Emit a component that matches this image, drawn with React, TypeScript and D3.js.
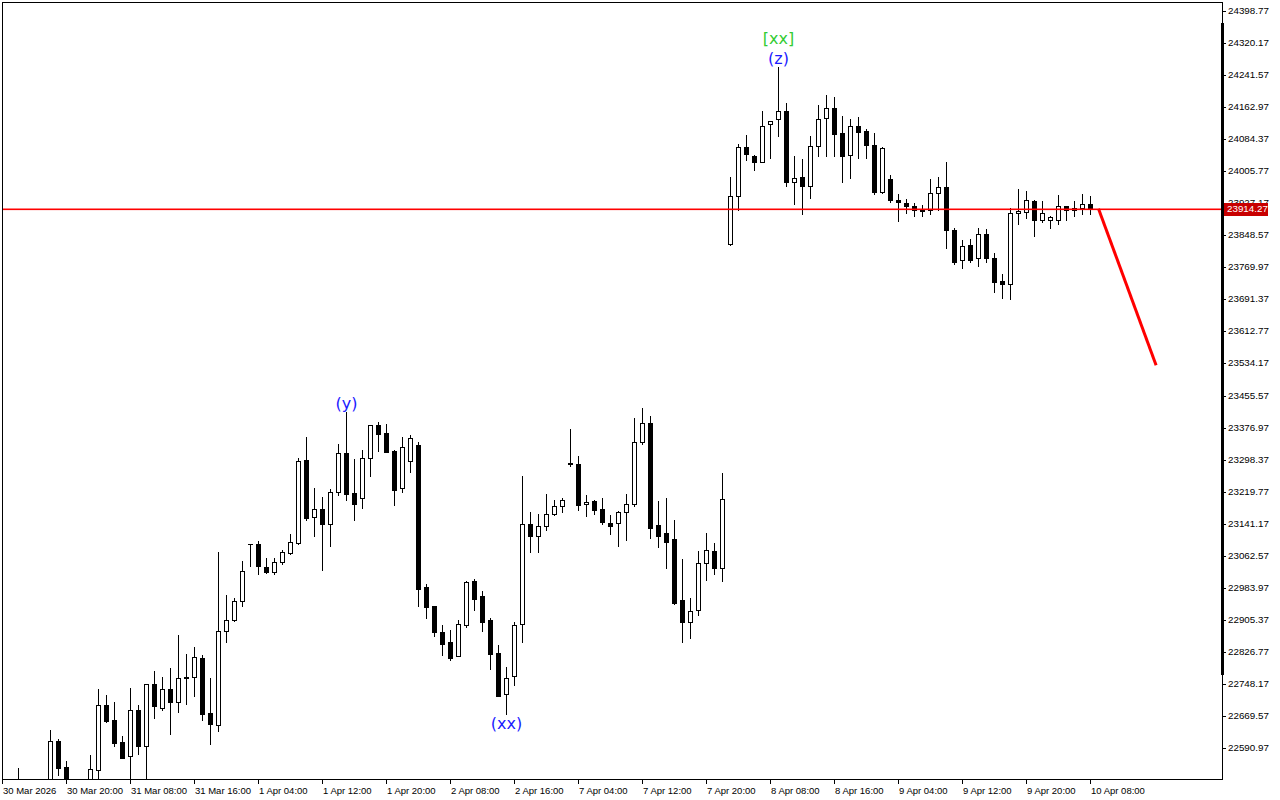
import React from "react";
import * as d3 from "d3";

// Bar index 0..136 (H1 bars)
const OPEN = [
  22455, 22470, 22507.5, 22480, 22475, 22465, 22487.8, 22608.1, 22544.3, 22500,
  22470, 22487.8, 22536.9, 22696.4, 22659.6, 22605.6, 22571.3, 22684.2, 22595.8, 22748.0,
  22689.1, 22735.7, 22703.8, 22762.7, 22765.1, 22811.8, 22676.8, 22647.3, 22878.0, 22905.0,
  22951.6, 23091.5, 23091.5, 23035.1, 23022.8, 23047.4, 23069.4, 23094.0, 23297.7, 23157.8,
  23177.4, 23140.6, 23219.1, 23314.8, 23216.7, 23204.4, 23302.6, 23383.5, 23363.9, 23319.7,
  23228.9, 23295.2, 23334.5, 22986.0, 22939.4, 22875.6, 22851.0, 22816.7, 22892.7, 23000.7,
  22963.9, 22905.0, 22824.0, 22723.4, 22767.6, 22895.2, 23140.6, 23111.2, 23135.7, 23165.1,
  23184.8, 23290.3, 23287.8, 23189.7, 23197.0, 23177.4, 23143.1, 23143.1, 23170.1, 23189.7,
  23341.8, 23388.5, 23138.1, 23118.5, 23103.8, 22954.1, 22900.1, 22929.6, 23044.9, 23074.3,
  23032.6, 23827.7, 23945.5, 24065.8, 24043.7, 24029.0, 24122.2, 24134.5, 24154.1, 23979.9,
  23992.1, 23970.1, 24068.2, 24136.9, 24161.5, 24100.1, 24046.1, 24117.3, 24105.0, 24070.7,
  23955.3, 23987.2, 23935.7, 23928.3, 23921.0, 23913.6, 23911.2, 23952.9, 23967.6, 23862.1,
  23788.5, 23825.3, 23793.4, 23852.3, 23793.4, 23736.9, 23729.6, 23903.8, 23906.3, 23933.2,
  23886.6, 23886.6, 23886.6, 23921.0, 23916.1, 23916.1, 23925.9,
];
const HIGH = [
  22480, 22495, 22541.8, 22500, 22490, 22498, 22635.1, 22613.0, 22559.0, 22505,
  22500, 22573.7, 22735.7, 22721.0, 22703.8, 22620.4, 22738.1, 22696.4, 22748.0, 22779.9,
  22765.1, 22787.2, 22868.2, 22821.6, 22838.8, 22819.1, 22762.7, 23071.9, 22966.4, 22959.0,
  23049.8, 23091.5, 23098.9, 23057.2, 23057.2, 23076.8, 23116.1, 23302.6, 23354.1, 23228.9,
  23206.9, 23226.5, 23336.9, 23415.5, 23300.1, 23322.2, 23383.5, 23390.9, 23386.0, 23322.2,
  23354.1, 23359.0, 23341.8, 22993.4, 22939.4, 22892.7, 22880.5, 22905.0, 23000.7, 23005.6,
  22976.2, 22909.9, 22843.7, 22789.7, 22900.1, 23258.4, 23170.1, 23165.1, 23214.2, 23199.5,
  23204.4, 23373.7, 23307.5, 23211.8, 23199.5, 23204.4, 23162.7, 23172.5, 23214.2, 23400.7,
  23425.3, 23405.6, 23197.0, 23204.4, 23150.4, 23054.7, 22959.0, 23074.3, 23118.5, 23094.0,
  23265.8, 23992.1, 24073.1, 24095.2, 24046.1, 24154.1, 24129.6, 24262.1, 24173.7, 24043.7,
  24036.3, 24092.8, 24168.8, 24193.4, 24188.5, 24141.8, 24134.5, 24139.4, 24109.9, 24100.1,
  24065.8, 23997.0, 23950.4, 23938.2, 23928.3, 23923.4, 23987.2, 23992.1, 24029.0, 23867.0,
  23837.5, 23840.0, 23867.0, 23864.5, 23805.6, 23754.1, 23916.1, 23962.7, 23957.8, 23935.7,
  23933.2, 23896.4, 23948.0, 23921.0, 23933.2, 23950.4, 23945.5,
];
const LOW = [
  22430, 22450, 22475.6, 22460, 22450, 22455, 22475.6, 22524.6, 22475.6, 22460,
  22455, 22475.6, 22500.1, 22654.7, 22595.8, 22566.4, 22500.1, 22576.2, 22500.1, 22664.5,
  22684.2, 22625.3, 22679.3, 22698.9, 22718.5, 22659.6, 22600.7, 22632.6, 22851.0, 22902.6,
  22939.4, 23037.5, 23017.9, 23020.4, 23017.9, 23042.4, 23067.0, 23091.5, 23150.4, 23111.2,
  23027.7, 23086.6, 23211.8, 23199.5, 23150.4, 23179.9, 23258.4, 23319.7, 23317.3, 23187.2,
  23219.1, 23268.2, 22939.4, 22909.9, 22865.8, 22819.1, 22806.9, 22816.7, 22887.8, 22929.6,
  22878.0, 22784.8, 22718.5, 22674.3, 22745.5, 22851.0, 23071.9, 23071.9, 23125.9, 23162.7,
  23170.1, 23282.9, 23175.0, 23160.2, 23165.1, 23140.6, 23116.1, 23086.6, 23101.3, 23184.8,
  23336.9, 23106.2, 23084.2, 23032.6, 22944.3, 22851.0, 22860.8, 22917.3, 23003.2, 23017.9,
  23000.7, 23825.3, 23911.2, 24033.9, 24009.3, 24029.0, 24038.8, 24092.8, 23970.1, 23925.9,
  23901.3, 23940.6, 24043.7, 24043.7, 24043.7, 23979.9, 23989.7, 24038.8, 24038.8, 23950.4,
  23952.9, 23930.8, 23884.2, 23903.8, 23896.4, 23896.4, 23901.3, 23911.2, 23817.9, 23778.6,
  23768.8, 23783.5, 23773.7, 23783.5, 23709.9, 23695.2, 23692.8, 23876.8, 23891.5, 23847.4,
  23881.7, 23867.0, 23876.8, 23886.6, 23896.4, 23901.3, 23901.3,
];
const CLOSE = [
  22470, 22485, 22487.8, 22475, 22465, 22490, 22608.1, 22541.8, 22487.8, 22470,
  22495, 22539.4, 22696.4, 22657.2, 22603.2, 22566.4, 22684.2, 22595.8, 22748.0, 22694.0,
  22735.7, 22703.8, 22762.7, 22763.9, 22814.2, 22674.3, 22649.8, 22878.0, 22905.0, 22951.6,
  23025.3, 23091.5, 23037.5, 23022.8, 23047.4, 23071.9, 23096.4, 23295.2, 23155.3, 23177.4,
  23140.6, 23219.1, 23314.8, 23214.2, 23189.7, 23302.6, 23383.5, 23361.5, 23317.3, 23224.0,
  23329.6, 23351.6, 22981.1, 22936.9, 22875.6, 22846.1, 22811.8, 22895.2, 22998.3, 22956.6,
  22900.1, 22821.6, 22718.5, 22762.7, 22892.7, 23140.6, 23111.2, 23135.7, 23165.1, 23184.8,
  23199.5, 23287.8, 23187.2, 23194.6, 23175.0, 23145.5, 23135.7, 23170.1, 23189.7, 23341.8,
  23388.5, 23130.8, 23111.2, 23096.4, 22946.7, 22900.1, 22927.1, 23044.9, 23076.8, 23032.6,
  23202.0, 23945.5, 24065.8, 24048.6, 24029.0, 24117.3, 24129.6, 24154.1, 23979.9, 23989.7,
  23970.1, 24068.2, 24134.5, 24161.5, 24097.7, 24043.7, 24117.3, 24102.6, 24070.7, 23955.3,
  24063.3, 23935.7, 23930.8, 23921.0, 23911.2, 23908.7, 23952.9, 23967.6, 23862.1, 23783.5,
  23822.8, 23788.5, 23852.3, 23793.4, 23734.5, 23729.6, 23903.8, 23908.7, 23935.7, 23886.6,
  23903.8, 23894.0, 23921.0, 23911.2, 23911.2, 23925.9, 23914.27,
];

const TIME_LABELS = [
  "30 Mar 2026", "30 Mar 20:00", "31 Mar 08:00", "31 Mar 16:00", "1 Apr 04:00", "1 Apr 12:00",
  "1 Apr 20:00", "2 Apr 08:00", "2 Apr 16:00", "7 Apr 04:00", "7 Apr 12:00", "7 Apr 20:00",
  "8 Apr 08:00", "8 Apr 16:00", "9 Apr 04:00", "9 Apr 12:00", "9 Apr 20:00", "10 Apr 08:00",
];
const TIME_LABEL_BARS = [0, 8, 16, 24, 32, 40, 48, 56, 64, 72, 80, 88, 96, 104, 112, 120, 128, 136];

const PRICE_TICKS = [
  24398.77, 24320.17, 24241.57, 24162.97, 24084.37, 24005.77, 23927.17, 23848.57, 23769.97,
  23691.37, 23612.77, 23534.17, 23455.57, 23376.97, 23298.37, 23219.77, 23141.17, 23062.57,
  22983.97, 22905.37, 22826.77, 22748.17, 22669.57, 22590.97,
];

const CURRENT_PRICE = 23914.27;
const PROJECTION_BARS = [137, 144.2];
const PROJECTION_PRICES = [23914.27, 23530];

const WAVE_TEXT = ["(y)", "(xx)", "(z)", "[xx]"];
const WAVE_BAR = [43, 63, 97, 97];
const WAVE_PRICE = [23415.5, 22674.3, 24262.1, 24262.1];
const WAVE_COLOR = ["#1a1aff", "#1a1aff", "#1a1aff", "#33cc33"];
const WAVE_DY = [-3, 15, -3, -23];

const W = 1280;
const H = 800;
const PLOT_L = 2;
const PLOT_T = 2;
const PLOT_R = 1222;
const PLOT_B = 779;

export default function App() {
  const x = d3.scaleLinear().domain([0, 136]).range([2.5, 1090.5]);
  const y = d3.scaleLinear().domain([22590.97, 24398.77]).range([747.7, 11.3]);
  const axisFont = "'Liberation Sans', Arial, sans-serif";

  const candles = OPEN.map((o, i) => {
    const c = CLOSE[i];
    const cx = x(i);
    const yo = y(o);
    const yc = y(c);
    const top = Math.round(Math.min(yo, yc));
    const bot = Math.round(Math.max(yo, yc));
    const yh = Math.round(y(HIGH[i]));
    const yl = Math.round(y(LOW[i]));
    const bull = c >= o;
    return (
      <g key={i}>
        <line x1={cx} x2={cx} y1={yh} y2={yl + 1} stroke="#000" strokeWidth={1} />
        {bot - top < 1 ? (
          <line x1={cx - 2.5} x2={cx + 2.5} y1={top + 0.5} y2={top + 0.5} stroke="#000" strokeWidth={1} />
        ) : (
          <rect
            x={cx - 2}
            y={top + 0.5}
            width={4}
            height={bot - top}
            fill={bull ? "#fff" : "#000"}
            stroke="#000"
            strokeWidth={1}
          />
        )}
      </g>
    );
  });

  const lineGen = d3
    .line<number>()
    .x((_, i) => x(PROJECTION_BARS[i]))
    .y((p) => y(p));

  const yCurPx = Math.round(y(CURRENT_PRICE));
  const yCur = yCurPx + 0.5;

  return (
    <div style={{ position: "fixed", left: 0, top: 0, width: W, height: H, background: "#fff" }}>
      <svg width={W} height={H} style={{ display: "block" }}>
        <defs>
          <clipPath id="plot">
            <rect x={PLOT_L + 1} y={PLOT_T + 1} width={PLOT_R - PLOT_L - 1} height={PLOT_B - PLOT_T - 1} />
          </clipPath>
          <clipPath id="abovetag">
            <rect x={PLOT_R} y={0} width={60} height={yCur - 6.5} />
          </clipPath>
        </defs>
        <rect x={0} y={0} width={W} height={H} fill="#fff" />
        <g clipPath="url(#plot)">
          {candles}
          <path
            d={lineGen(PROJECTION_PRICES) || ""}
            fill="none"
            stroke="#ff0000"
            strokeWidth={3}
          />
          {WAVE_TEXT.map((t, i) => (
            <text
              key={t + i}
              x={x(WAVE_BAR[i])}
              y={y(WAVE_PRICE[i]) + WAVE_DY[i]}
              textAnchor="middle"
              fontFamily="'DejaVu Sans', Verdana, sans-serif"
              fontSize={16}
              fill={WAVE_COLOR[i]}
            >
              {t}
            </text>
          ))}
        </g>
        {/* current price line */}
        <rect x={PLOT_L + 1} y={yCurPx - 0.5} width={PLOT_R - PLOT_L + 3} height={1.6} fill="#ff0000" />
        {/* frame */}
        <rect
          x={PLOT_L + 0.5}
          y={PLOT_T + 0.5}
          width={PLOT_R - PLOT_L}
          height={PLOT_B - PLOT_T}
          fill="none"
          stroke="#000"
          strokeWidth={1}
        />
        <rect x={1221} y={23} width={3} height={652} fill="#000" />
        {/* price axis */}
        {PRICE_TICKS.map((p) => {
          const yy = Math.round(y(p)) + 0.5;
          const hidden = Math.abs(yy - yCur) < 12;
          return (
            <g key={p} clipPath={hidden ? "url(#abovetag)" : undefined}>
              <line x1={PLOT_R} x2={PLOT_R + 4} y1={yy} y2={yy} stroke="#000" />
              <text
                x={PLOT_R + 6}
                y={yy}
                dominantBaseline="middle"
                fontFamily={axisFont}
                fontSize={9.8}
                fill="#000"
              >
                {p.toFixed(2)}
              </text>
            </g>
          );
        })}
        <rect x={PLOT_R + 2} y={yCur - 6.5} width={44} height={13} fill="#c80000" />
        <text
          x={PLOT_R + 5}
          y={yCur}
          dominantBaseline="middle"
          fontFamily={axisFont}
          fontSize={9.8}
          fill="#fff"
        >
          {CURRENT_PRICE.toFixed(2)}
        </text>
        {/* time axis */}
        {TIME_LABELS.map((t, i) => {
          const xx = x(TIME_LABEL_BARS[i]);
          return (
            <g key={t}>
              <line x1={xx} x2={xx} y1={PLOT_B} y2={PLOT_B + 5} stroke="#000" />
              <text x={xx + 0.5} y={794} fontFamily={axisFont} fontSize={9.5} fill="#000">
                {t}
              </text>
            </g>
          );
        })}
      </svg>
    </div>
  );
}
